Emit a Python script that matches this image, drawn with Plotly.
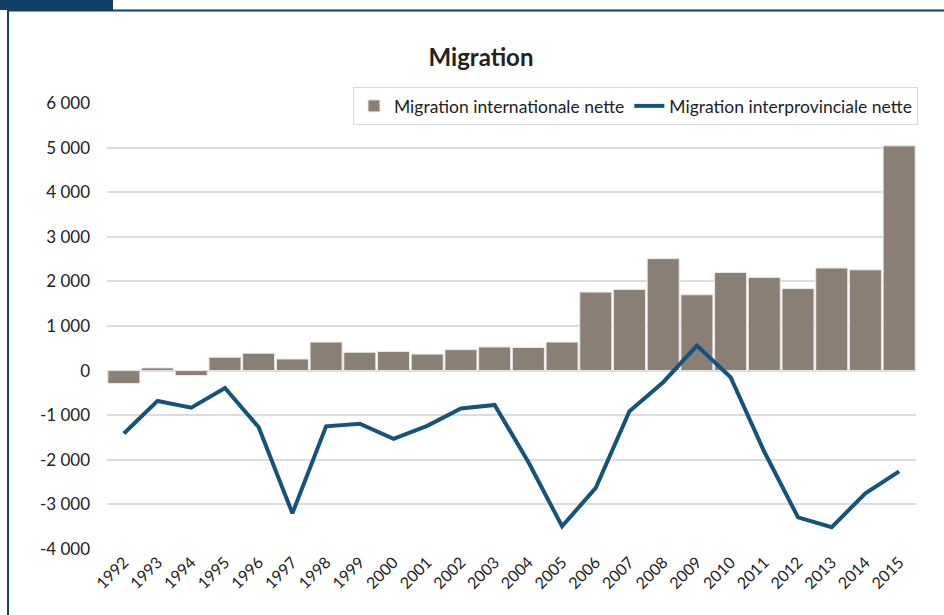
import plotly.graph_objects as go

years = [str(y) for y in range(1992, 2016)]
intl_net = [-290, 60, -110, 300, 390, 260, 640, 410, 430, 370, 470, 530, 520, 640,
            1760, 1820, 2510, 1700, 2200, 2090, 1840, 2300, 2260, 5040]
interprov_net = [-1410, -680, -830, -390, -1270, -3200, -1250, -1190, -1530, -1240, -850, -770,
                 -2050, -3490, -2630, -910, -260, 560, -150, -1820, -3290, -3510, -2750, -2260]
y_ticks = [6000, 5000, 4000, 3000, 2000, 1000, 0, -1000, -2000, -3000, -4000]
y_tick_text = ["6 000", "5 000", "4 000", "3 000", "2 000", "1 000", "0",
               "-1 000", "-2 000", "-3 000", "-4 000"]

BAR = "#8a7f75"
LINE = "#15537b"
FRAME = "#0f3f66"
FONT = "Lato, 'Open Sans', sans-serif"

fig = go.Figure()
fig.add_trace(go.Bar(x=years, y=intl_net, name="Migration internationale nette",
                     marker=dict(color=BAR, line=dict(color="#ece9e6", width=1))))
fig.add_trace(go.Scatter(x=years, y=interprov_net, name="Migration interprovinciale nette",
                         mode="lines", line=dict(color=LINE, width=4)))

W, H = 944, 615
L, R, T, B = 107, 916, 103, 549.5

def px(x):
    return (x - L) / (R - L)

def py(y):
    return (B - y) / (B - T)

shapes = [
    dict(type="rect", xref="paper", yref="paper", x0=px(0), x1=px(113), y0=py(10), y1=py(-2),
         fillcolor=FRAME, line=dict(width=0), layer="above"),
    dict(type="line", xref="paper", yref="paper", x0=px(8), x1=px(950), y0=py(10.5), y1=py(10.5),
         line=dict(color=FRAME, width=2)),
    dict(type="line", xref="paper", yref="paper", x0=px(8), x1=px(8), y0=py(9), y1=py(620),
         line=dict(color=FRAME, width=2)),
]

fig.update_layout(
    width=W, height=H,
    margin=dict(l=L, r=W - R, t=T, b=H - B, pad=0),
    paper_bgcolor="white", plot_bgcolor="white",
    font=dict(family=FONT, size=17, color="#222222"),
    title=dict(text="<b>Migration</b>", x=481 / W, xanchor="center", y=1 - 58 / H, yanchor="middle",
               font=dict(size=24, color="#222222", family=FONT)),
    bargap=0.05,
    showlegend=True,
    legend=dict(orientation="h", x=px(918), xanchor="right", y=py(87), yanchor="top",
                bgcolor="white", bordercolor="#d9d9d9", borderwidth=1,
                font=dict(size=17.5, color="#222222"), traceorder="normal",
                itemwidth=30),
    shapes=shapes,
    xaxis=dict(type="category", tickangle=-45, tickfont=dict(size=16, color="#222222"),
               showgrid=False, showline=False, ticks="", zeroline=False),
    yaxis=dict(range=[-4000, 6000], tickvals=y_ticks, ticktext=y_tick_text,
               showgrid=True, gridcolor="#dcdcdc", gridwidth=1.5,
               zeroline=True, zerolinecolor="#dcdcdc", zerolinewidth=1.5,
               showline=False, ticks="", ticklabelstandoff=16,
               tickfont=dict(size=17, color="#222222")),
)

fig.write_html("out.html", config={"displayModeBar": False},
               post_script="document.body.style.margin='0';")
